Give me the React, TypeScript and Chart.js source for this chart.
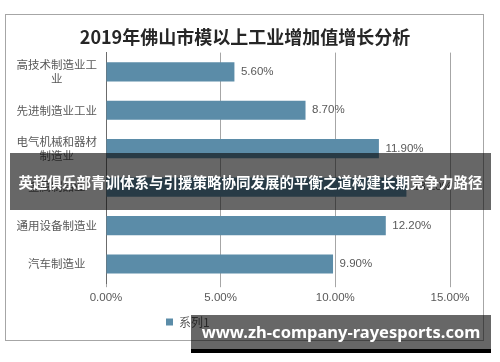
import React, { useEffect, useRef } from "react";
import { Chart, registerables } from "chart.js";

Chart.register(...registerables);

const chartTitle = "2019年佛山市模以上工业增加值增长分析";
const categories: (string | string[])[] = [
  ["高技术制造业工", "业"],
  "先进制造业工业",
  ["电气机械和器材", "制造业"],
  "金属制品业",
  "通用设备制造业",
  "汽车制造业",
];
const seriesName = "系列1";
const seriesValues = [5.6, 8.7, 11.9, 13.1, 12.2, 9.9];
const xTicks = [0, 5, 10, 15];
const bannerText = "英超俱乐部青训体系与引援策略协同发展的平衡之道构建长期竞争力路径";
const watermarkText = "www.zh-company-rayesports.com";

const BAR_COLOR = "#5b8ca8";
const TEXT_COLOR = "#595959";
const CJK = '"Noto Sans CJK SC", "Noto Sans", sans-serif';
const LATIN = '"Liberation Sans", Arial, sans-serif';

const fmt = (v: number) => v.toFixed(2) + "%";

export default function App() {
  const canvasRef = useRef<HTMLCanvasElement | null>(null);

  useEffect(() => {
    const canvas = canvasRef.current;
    if (!canvas) return;

    const valueLabels = {
      id: "valueLabels",
      afterDatasetsDraw(chart: any) {
        const ctx = chart.ctx;
        const meta = chart.getDatasetMeta(0);
        ctx.save();
        ctx.font = `11.5px ${LATIN}`;
        ctx.fillStyle = TEXT_COLOR;
        ctx.textAlign = "left";
        ctx.textBaseline = "middle";
        meta.data.forEach((bar: any, i: number) => {
          ctx.fillText(fmt(seriesValues[i]), bar.x + 6.5, bar.y);
        });
        ctx.restore();
      },
    };

    const boxShift = {
      id: "boxShift",
      afterUpdate(chart: any) {
        const lg = chart.legend;
        if (lg) {
          const w = lg.right - lg.left;
          lg.left = 159;
          lg.right = 159 + w;
        }
        const tb = chart.titleBlock;
        if (tb) {
          tb.left = 40;
          tb.right = 450;
        }
      },
    };

    const chart = new Chart(canvas, {
      type: "bar",
      data: {
        labels: categories,
        datasets: [
          {
            label: seriesName,
            data: seriesValues,
            backgroundColor: BAR_COLOR,
            borderWidth: 0,
            barPercentage: 0.5,
            categoryPercentage: 1,
          },
        ],
      },
      options: {
        indexAxis: "y",
        animation: false,
        responsive: false,
        maintainAspectRatio: false,
        layout: { padding: { left: 10, right: 50, top: 0, bottom: 24 } },
        plugins: {
          title: {
            display: true,
            text: chartTitle,
            color: "#262626",
            font: { family: CJK, size: 18, weight: "bold", lineHeight: 1.2 },
            padding: { top: 26, bottom: 5 },
          },
          legend: {
            display: true,
            position: "bottom",
            align: "start",
            labels: {
              boxWidth: 7,
              boxHeight: 7,
              padding: 7,
              color: TEXT_COLOR,
              font: { family: CJK, size: 12, lineHeight: 1.2 },
            },
          },
          tooltip: { enabled: false },
        },
        scales: {
          x: {
            type: "linear",
            min: xTicks[0],
            max: xTicks[xTicks.length - 1],
            afterBuildTicks(scale: any) {
              scale.ticks = xTicks.map((v) => ({ value: v }));
            },
            grid: {
              display: true,
              color: "#a6a6a6",
              lineWidth: 1,
              drawTicks: true,
              tickLength: 4,
            },
            border: { display: false },
            ticks: {
              padding: 4,
              color: TEXT_COLOR,
              font: { family: LATIN, size: 11.5, lineHeight: 1.2 },
              callback: (v: any) => fmt(Number(v)),
            },
          },
          y: {
            type: "category",
            grid: { display: false, drawTicks: false },
            border: { display: true, color: "#6b6b6b", width: 1 },
            ticks: {
              crossAlign: "center",
              padding: 9,
              color: TEXT_COLOR,
              font: { family: CJK, size: 11.5, lineHeight: 1.2 },
            },
            afterFit(scale: any) {
              scale.width = 96;
            },
          },
        },
      } as any,
      plugins: [valueLabels, boxShift],
    });

    return () => chart.destroy();
  }, []);

  return (
    <div
      style={{
        position: "fixed",
        left: 0,
        top: 0,
        width: 500,
        height: 362,
        background: "#ffffff",
        overflow: "hidden",
      }}
    >
      <div
        style={{
          position: "absolute",
          left: 5,
          top: 14,
          width: 479,
          height: 327,
          boxSizing: "border-box",
          border: "1px solid #a6a6a6",
        }}
      />
      <canvas
        ref={canvasRef}
        width={500}
        height={362}
        style={{ position: "absolute", left: 0, top: 0, width: 500, height: 362 }}
      />
      <div
        style={{
          position: "absolute",
          left: 10,
          top: 153,
          width: 481,
          height: 57,
          background: "rgba(10,10,10,0.62)",
          color: "#ffffff",
          fontFamily: CJK,
          fontWeight: "bold",
          fontSize: 14.5,
          lineHeight: "57px",
          textAlign: "center",
          whiteSpace: "nowrap",
        }}
      >
        {bannerText}
      </div>
      <div
        style={{
          position: "absolute",
          left: 191,
          top: 315,
          width: 300,
          height: 38,
          boxSizing: "border-box",
          background: "rgba(10,10,10,0.62)",
          borderBottom: "4px solid #000000",
          color: "#ffffff",
          fontFamily: '"Noto Sans", "Open Sans", sans-serif',
          fontWeight: "bold",
          fontSize: 16.5,
          lineHeight: "34px",
          textAlign: "center",
          whiteSpace: "nowrap",
        }}
      >
        {watermarkText}
      </div>
    </div>
  );
}
